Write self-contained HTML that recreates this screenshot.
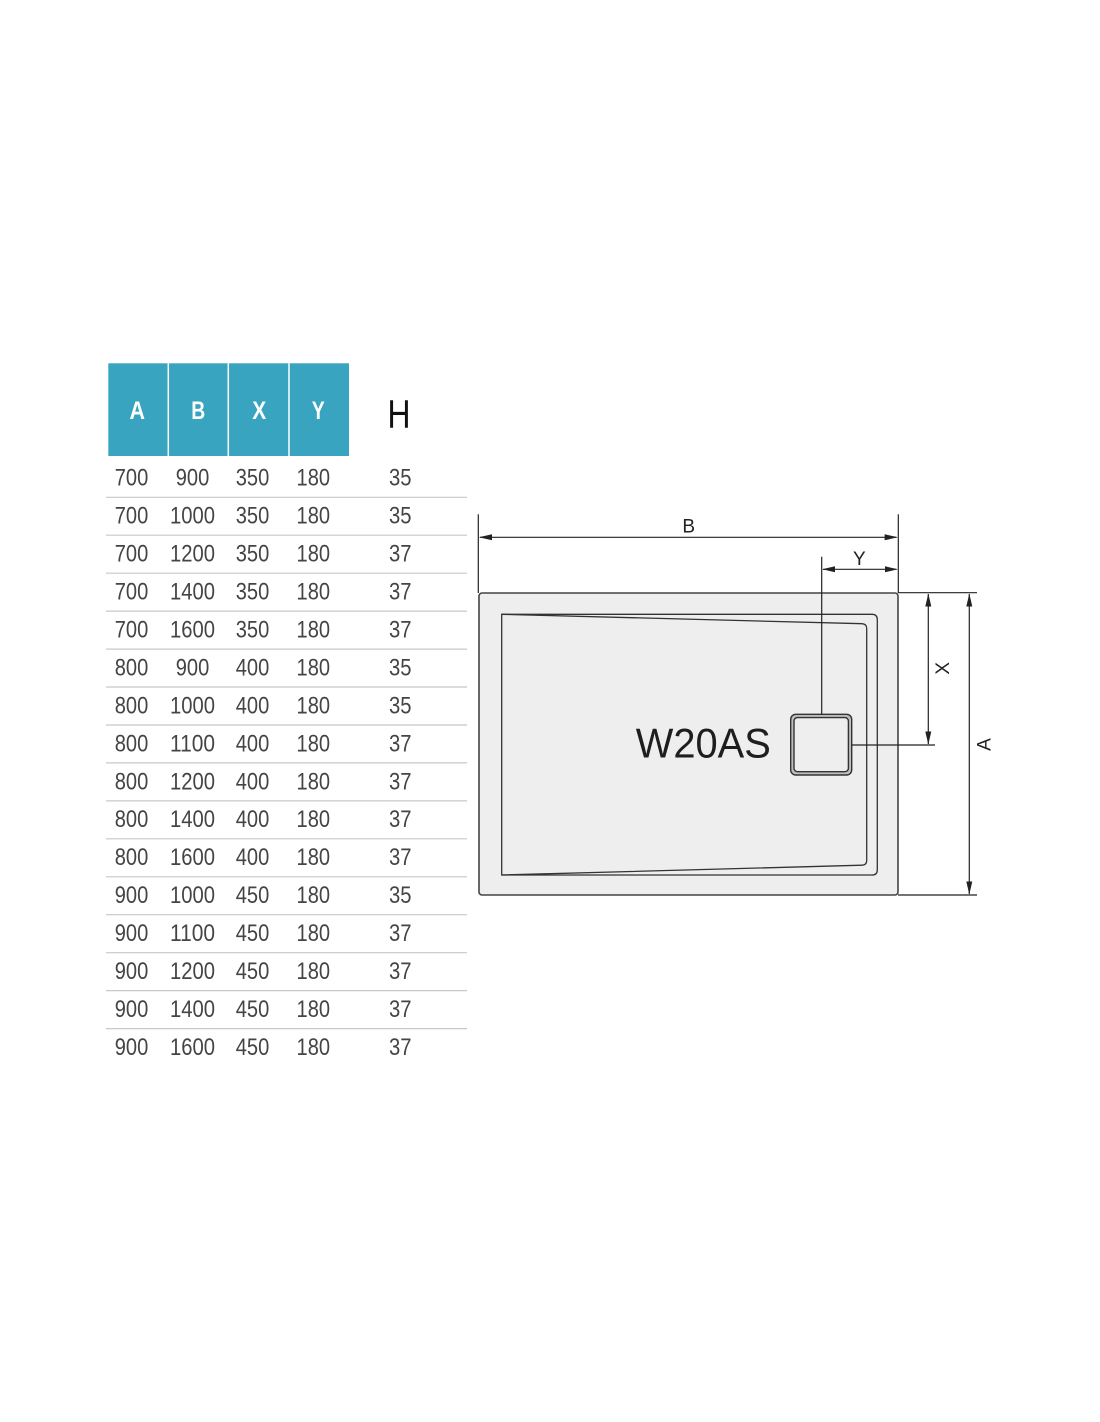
<!DOCTYPE html>
<html>
<head>
<meta charset="utf-8">
<style>
html,body{margin:0;padding:0;background:#fff;}
svg{display:block;}
.d{font-family:"Liberation Sans",sans-serif;font-size:24px;fill:#444;text-anchor:middle;}
.h{font-family:"Liberation Sans",sans-serif;font-size:25px;font-weight:bold;fill:#fff;text-anchor:middle;}
.lbl{font-family:"Liberation Sans",sans-serif;font-size:19px;fill:#222;text-anchor:middle;}
</style>
</head>
<body>
<svg width="1100" height="1422" viewBox="0 0 1100 1422" xmlns="http://www.w3.org/2000/svg">
<rect x="0" y="0" width="1100" height="1422" fill="#fff"/>

<!-- Table header -->
<rect x="108.3" y="363.3" width="240.7" height="92.7" fill="#38a4bf"/>
<line x1="168.3" y1="363.3" x2="168.3" y2="456" stroke="#fff" stroke-width="1.5"/>
<line x1="228.3" y1="363.3" x2="228.3" y2="456" stroke="#fff" stroke-width="1.5"/>
<line x1="289" y1="363.3" x2="289" y2="456" stroke="#fff" stroke-width="1.5"/>
<text class="h" x="137.3" y="418.8" textLength="15.5" lengthAdjust="spacingAndGlyphs">A</text>
<text class="h" x="198.3" y="418.8" textLength="14" lengthAdjust="spacingAndGlyphs">B</text>
<text class="h" x="259.3" y="418.8" textLength="14" lengthAdjust="spacingAndGlyphs">X</text>
<text class="h" x="318.3" y="418.8" textLength="13" lengthAdjust="spacingAndGlyphs">Y</text>
<text x="399" y="427.7" font-family="'Liberation Sans',sans-serif" font-size="40" fill="#111" text-anchor="middle" textLength="23" lengthAdjust="spacingAndGlyphs">H</text>

<!-- Row separator lines -->
<g stroke="#c8c8c8" stroke-width="1.2">
<line x1="106" y1="497.3" x2="467" y2="497.3"/>
<line x1="106" y1="535.2" x2="467" y2="535.2"/>
<line x1="106" y1="573.2" x2="467" y2="573.2"/>
<line x1="106" y1="611.1" x2="467" y2="611.1"/>
<line x1="106" y1="649.1" x2="467" y2="649.1"/>
<line x1="106" y1="687" x2="467" y2="687"/>
<line x1="106" y1="725" x2="467" y2="725"/>
<line x1="106" y1="762.9" x2="467" y2="762.9"/>
<line x1="106" y1="800.9" x2="467" y2="800.9"/>
<line x1="106" y1="838.8" x2="467" y2="838.8"/>
<line x1="106" y1="876.8" x2="467" y2="876.8"/>
<line x1="106" y1="914.7" x2="467" y2="914.7"/>
<line x1="106" y1="952.7" x2="467" y2="952.7"/>
<line x1="106" y1="990.6" x2="467" y2="990.6"/>
<line x1="106" y1="1028.6" x2="467" y2="1028.6"/>
</g>

<!-- Rows -->
<g>
<text class="d" x="131.5" y="485.7" textLength="33.5" lengthAdjust="spacingAndGlyphs">700</text>
<text class="d" x="192.5" y="485.7" textLength="33.5" lengthAdjust="spacingAndGlyphs">900</text>
<text class="d" x="252.5" y="485.7" textLength="33.5" lengthAdjust="spacingAndGlyphs">350</text>
<text class="d" x="313.3" y="485.7" textLength="33.5" lengthAdjust="spacingAndGlyphs">180</text>
<text class="d" x="400.3" y="485.7" textLength="22.5" lengthAdjust="spacingAndGlyphs">35</text>

<text class="d" x="131.5" y="523.6" textLength="33.5" lengthAdjust="spacingAndGlyphs">700</text>
<text class="d" x="192.5" y="523.6" textLength="45" lengthAdjust="spacingAndGlyphs">1000</text>
<text class="d" x="252.5" y="523.6" textLength="33.5" lengthAdjust="spacingAndGlyphs">350</text>
<text class="d" x="313.3" y="523.6" textLength="33.5" lengthAdjust="spacingAndGlyphs">180</text>
<text class="d" x="400.3" y="523.6" textLength="22.5" lengthAdjust="spacingAndGlyphs">35</text>

<text class="d" x="131.5" y="561.6" textLength="33.5" lengthAdjust="spacingAndGlyphs">700</text>
<text class="d" x="192.5" y="561.6" textLength="45" lengthAdjust="spacingAndGlyphs">1200</text>
<text class="d" x="252.5" y="561.6" textLength="33.5" lengthAdjust="spacingAndGlyphs">350</text>
<text class="d" x="313.3" y="561.6" textLength="33.5" lengthAdjust="spacingAndGlyphs">180</text>
<text class="d" x="400.3" y="561.6" textLength="22.5" lengthAdjust="spacingAndGlyphs">37</text>

<text class="d" x="131.5" y="599.5" textLength="33.5" lengthAdjust="spacingAndGlyphs">700</text>
<text class="d" x="192.5" y="599.5" textLength="45" lengthAdjust="spacingAndGlyphs">1400</text>
<text class="d" x="252.5" y="599.5" textLength="33.5" lengthAdjust="spacingAndGlyphs">350</text>
<text class="d" x="313.3" y="599.5" textLength="33.5" lengthAdjust="spacingAndGlyphs">180</text>
<text class="d" x="400.3" y="599.5" textLength="22.5" lengthAdjust="spacingAndGlyphs">37</text>

<text class="d" x="131.5" y="637.5" textLength="33.5" lengthAdjust="spacingAndGlyphs">700</text>
<text class="d" x="192.5" y="637.5" textLength="45" lengthAdjust="spacingAndGlyphs">1600</text>
<text class="d" x="252.5" y="637.5" textLength="33.5" lengthAdjust="spacingAndGlyphs">350</text>
<text class="d" x="313.3" y="637.5" textLength="33.5" lengthAdjust="spacingAndGlyphs">180</text>
<text class="d" x="400.3" y="637.5" textLength="22.5" lengthAdjust="spacingAndGlyphs">37</text>

<text class="d" x="131.5" y="675.4" textLength="33.5" lengthAdjust="spacingAndGlyphs">800</text>
<text class="d" x="192.5" y="675.4" textLength="33.5" lengthAdjust="spacingAndGlyphs">900</text>
<text class="d" x="252.5" y="675.4" textLength="33.5" lengthAdjust="spacingAndGlyphs">400</text>
<text class="d" x="313.3" y="675.4" textLength="33.5" lengthAdjust="spacingAndGlyphs">180</text>
<text class="d" x="400.3" y="675.4" textLength="22.5" lengthAdjust="spacingAndGlyphs">35</text>

<text class="d" x="131.5" y="713.4" textLength="33.5" lengthAdjust="spacingAndGlyphs">800</text>
<text class="d" x="192.5" y="713.4" textLength="45" lengthAdjust="spacingAndGlyphs">1000</text>
<text class="d" x="252.5" y="713.4" textLength="33.5" lengthAdjust="spacingAndGlyphs">400</text>
<text class="d" x="313.3" y="713.4" textLength="33.5" lengthAdjust="spacingAndGlyphs">180</text>
<text class="d" x="400.3" y="713.4" textLength="22.5" lengthAdjust="spacingAndGlyphs">35</text>

<text class="d" x="131.5" y="751.3" textLength="33.5" lengthAdjust="spacingAndGlyphs">800</text>
<text class="d" x="192.5" y="751.3" textLength="45" lengthAdjust="spacingAndGlyphs">1100</text>
<text class="d" x="252.5" y="751.3" textLength="33.5" lengthAdjust="spacingAndGlyphs">400</text>
<text class="d" x="313.3" y="751.3" textLength="33.5" lengthAdjust="spacingAndGlyphs">180</text>
<text class="d" x="400.3" y="751.3" textLength="22.5" lengthAdjust="spacingAndGlyphs">37</text>

<text class="d" x="131.5" y="789.3" textLength="33.5" lengthAdjust="spacingAndGlyphs">800</text>
<text class="d" x="192.5" y="789.3" textLength="45" lengthAdjust="spacingAndGlyphs">1200</text>
<text class="d" x="252.5" y="789.3" textLength="33.5" lengthAdjust="spacingAndGlyphs">400</text>
<text class="d" x="313.3" y="789.3" textLength="33.5" lengthAdjust="spacingAndGlyphs">180</text>
<text class="d" x="400.3" y="789.3" textLength="22.5" lengthAdjust="spacingAndGlyphs">37</text>

<text class="d" x="131.5" y="827.2" textLength="33.5" lengthAdjust="spacingAndGlyphs">800</text>
<text class="d" x="192.5" y="827.2" textLength="45" lengthAdjust="spacingAndGlyphs">1400</text>
<text class="d" x="252.5" y="827.2" textLength="33.5" lengthAdjust="spacingAndGlyphs">400</text>
<text class="d" x="313.3" y="827.2" textLength="33.5" lengthAdjust="spacingAndGlyphs">180</text>
<text class="d" x="400.3" y="827.2" textLength="22.5" lengthAdjust="spacingAndGlyphs">37</text>

<text class="d" x="131.5" y="865.2" textLength="33.5" lengthAdjust="spacingAndGlyphs">800</text>
<text class="d" x="192.5" y="865.2" textLength="45" lengthAdjust="spacingAndGlyphs">1600</text>
<text class="d" x="252.5" y="865.2" textLength="33.5" lengthAdjust="spacingAndGlyphs">400</text>
<text class="d" x="313.3" y="865.2" textLength="33.5" lengthAdjust="spacingAndGlyphs">180</text>
<text class="d" x="400.3" y="865.2" textLength="22.5" lengthAdjust="spacingAndGlyphs">37</text>

<text class="d" x="131.5" y="903.1" textLength="33.5" lengthAdjust="spacingAndGlyphs">900</text>
<text class="d" x="192.5" y="903.1" textLength="45" lengthAdjust="spacingAndGlyphs">1000</text>
<text class="d" x="252.5" y="903.1" textLength="33.5" lengthAdjust="spacingAndGlyphs">450</text>
<text class="d" x="313.3" y="903.1" textLength="33.5" lengthAdjust="spacingAndGlyphs">180</text>
<text class="d" x="400.3" y="903.1" textLength="22.5" lengthAdjust="spacingAndGlyphs">35</text>

<text class="d" x="131.5" y="941.1" textLength="33.5" lengthAdjust="spacingAndGlyphs">900</text>
<text class="d" x="192.5" y="941.1" textLength="45" lengthAdjust="spacingAndGlyphs">1100</text>
<text class="d" x="252.5" y="941.1" textLength="33.5" lengthAdjust="spacingAndGlyphs">450</text>
<text class="d" x="313.3" y="941.1" textLength="33.5" lengthAdjust="spacingAndGlyphs">180</text>
<text class="d" x="400.3" y="941.1" textLength="22.5" lengthAdjust="spacingAndGlyphs">37</text>

<text class="d" x="131.5" y="979" textLength="33.5" lengthAdjust="spacingAndGlyphs">900</text>
<text class="d" x="192.5" y="979" textLength="45" lengthAdjust="spacingAndGlyphs">1200</text>
<text class="d" x="252.5" y="979" textLength="33.5" lengthAdjust="spacingAndGlyphs">450</text>
<text class="d" x="313.3" y="979" textLength="33.5" lengthAdjust="spacingAndGlyphs">180</text>
<text class="d" x="400.3" y="979" textLength="22.5" lengthAdjust="spacingAndGlyphs">37</text>

<text class="d" x="131.5" y="1017" textLength="33.5" lengthAdjust="spacingAndGlyphs">900</text>
<text class="d" x="192.5" y="1017" textLength="45" lengthAdjust="spacingAndGlyphs">1400</text>
<text class="d" x="252.5" y="1017" textLength="33.5" lengthAdjust="spacingAndGlyphs">450</text>
<text class="d" x="313.3" y="1017" textLength="33.5" lengthAdjust="spacingAndGlyphs">180</text>
<text class="d" x="400.3" y="1017" textLength="22.5" lengthAdjust="spacingAndGlyphs">37</text>

<text class="d" x="131.5" y="1055" textLength="33.5" lengthAdjust="spacingAndGlyphs">900</text>
<text class="d" x="192.5" y="1055" textLength="45" lengthAdjust="spacingAndGlyphs">1600</text>
<text class="d" x="252.5" y="1055" textLength="33.5" lengthAdjust="spacingAndGlyphs">450</text>
<text class="d" x="313.3" y="1055" textLength="33.5" lengthAdjust="spacingAndGlyphs">180</text>
<text class="d" x="400.3" y="1055" textLength="22.5" lengthAdjust="spacingAndGlyphs">37</text>
</g>

<!-- Shower tray diagram -->
<rect x="479" y="593" width="419" height="302" rx="3" ry="3" fill="#eeeeee" stroke="#444" stroke-width="1.6"/>
<path d="M501.7,614.3 L872,614.3 Q877.3,614.3 877.3,619.6 L877.3,869.7 Q877.3,875 872,875 L501.7,875 Z" fill="#eeeeee" stroke="#333" stroke-width="1.3"/>
<path d="M501.7,614.3 L862,623.7 Q866.7,624 866.7,628.5 L866.7,860.5 Q866.7,865 862,865.2 L501.7,875" fill="none" stroke="#333" stroke-width="1.3"/>

<!-- Drain -->
<rect x="790.7" y="714.3" width="61" height="60.7" rx="5" ry="5" fill="#bdbdbd" stroke="#333" stroke-width="1.4"/>
<rect x="794" y="717.6" width="54.4" height="54.1" rx="3.5" ry="3.5" fill="#eeeeee" stroke="#333" stroke-width="1.4"/>

<text x="703.3" y="757.3" font-family="'Liberation Sans',sans-serif" font-size="42" fill="#1e1e1e" text-anchor="middle" textLength="135" lengthAdjust="spacingAndGlyphs">W20AS</text>

<!-- Dimension lines -->
<g stroke="#222" stroke-width="1.2" fill="none">
<line x1="478.3" y1="514.3" x2="478.3" y2="593"/>
<line x1="898.3" y1="514.3" x2="898.3" y2="593"/>
<line x1="480" y1="537.3" x2="896.5" y2="537.3"/>
<line x1="821.7" y1="556.7" x2="821.7" y2="714.3"/>
<line x1="823" y1="569.3" x2="896.5" y2="569.3"/>
<line x1="851.7" y1="745" x2="935" y2="745"/>
<line x1="898" y1="592.7" x2="977" y2="592.7"/>
<line x1="898" y1="895" x2="977" y2="895"/>
<line x1="928.3" y1="594" x2="928.3" y2="744"/>
<line x1="969.3" y1="594" x2="969.3" y2="894"/>
</g>

<!-- Arrowheads -->
<g fill="#222">
<polygon points="478.8,537.3 492,534.3 492,540.3"/>
<polygon points="897.8,537.3 884.6,534.3 884.6,540.3"/>
<polygon points="822.2,569.3 835,566.3 835,572.3"/>
<polygon points="897.8,569.3 885,566.3 885,572.3"/>
<polygon points="928.3,593.5 925.3,606.5 931.3,606.5"/>
<polygon points="928.3,744.5 925.3,731.5 931.3,731.5"/>
<polygon points="969.3,593.5 966.3,606.5 972.3,606.5"/>
<polygon points="969.3,894.5 966.3,881.5 972.3,881.5"/>
</g>

<!-- Dimension labels -->
<text class="lbl" x="688.7" y="532.3">B</text>
<text class="lbl" x="859.3" y="565">Y</text>
<text class="lbl" x="0" y="0" transform="translate(942,668.3) rotate(-90) translate(0,6.8)">X</text>
<text class="lbl" x="0" y="0" transform="translate(983.5,744.5) rotate(-90) translate(0,6.8)">A</text>
</svg>
</body>
</html>
